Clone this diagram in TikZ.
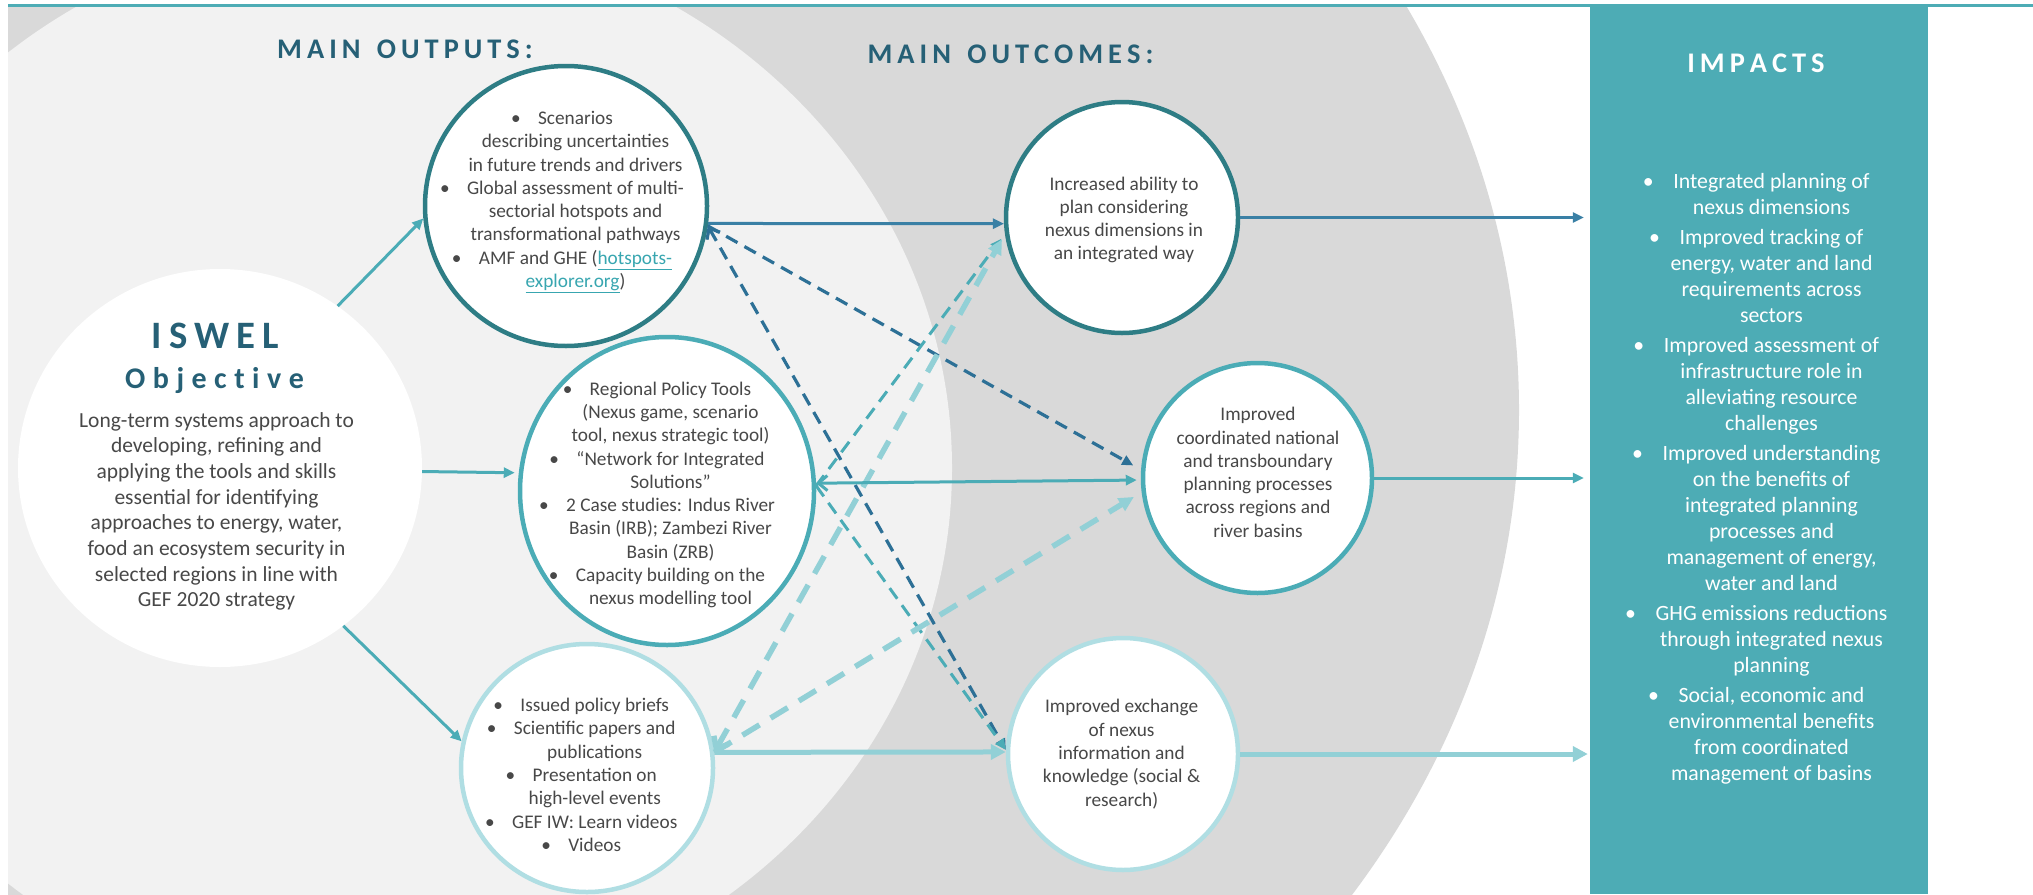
\documentclass[tikz,border=0pt]{standalone}
\usepackage{fontspec}
\setmainfont{Carlito}
\usetikzlibrary{shapes.geometric,arrows.meta}
\definecolor{bgdark}{HTML}{D9D9D9}
\definecolor{bglight}{HTML}{F2F2F2}
\definecolor{tealdark}{RGB}{46,125,133}
\definecolor{tealmid}{RGB}{75,172,182}
\definecolor{teallight}{RGB}{176,222,227}
\definecolor{arrowlight}{RGB}{146,208,214}
\definecolor{steel}{RGB}{58,128,165}
\definecolor{steeldash}{RGB}{45,112,150}
\definecolor{impactbg}{RGB}{77,172,181}
\definecolor{titlec}{RGB}{38,96,118}
\definecolor{bodyc}{RGB}{72,72,72}
\definecolor{linkc}{RGB}{56,166,176}
\newcommand\bul{\makebox[0pt][r]{\makebox[0pt][c]{\textbullet}\hspace{1.15em}}}
\newcommand\lnk[1]{{\color{linkc}\underline{#1}}}
\makeatletter
\def\spx#1#2{\def\spx@g{\kern#1}\spx@a#2\@nil}
\def\spx@a#1{\ifx#1\@nil\else#1\expandafter\spx@b\fi}
\def\spx@b#1{\ifx#1\@nil\else\spx@g#1\expandafter\spx@b\fi}
\makeatother
\tikzset{
  bubble/.style={ellipse, fill=white, line width=4.5pt, inner sep=0pt},
  body/.style={align=center, text=bodyc, inner sep=0pt, font=\fontsize{19.3}{23.3}\selectfont},
  head/.style={text=titlec, inner sep=0pt, anchor=base},
  tipA/.style={-{Triangle[length=11pt,width=10pt]}},
  solidmid/.style={draw=tealmid, line width=3pt, tipA},
  solidsteel/.style={draw=steel, line width=3pt, tipA},
  thicklight/.style={draw=arrowlight, line width=5pt, -{Triangle[length=15pt,width=15pt]}},
  dashdark/.style={draw=steeldash, line width=3.2pt, dash pattern=on 13pt off 8pt},
  dashmid/.style={draw=tealmid, line width=3pt, dash pattern=on 13pt off 8pt},
  dashlight/.style={draw=arrowlight, line width=5.5pt, dash pattern=on 20pt off 13pt},
}
\begin{document}
\begin{tikzpicture}[x=1pt,y=-1pt]
\useasboundingbox (0,0) rectangle (2033,894);
% background bands
\begin{scope}
\clip (8,7) rectangle (2033,894);
\fill[bgdark] (419,410) ellipse [x radius=1100pt, y radius=915pt];
\fill[bglight] (376,468) ellipse [x radius=576pt, y radius=540pt];
\end{scope}
\draw[impactbg, line width=3pt] (8,5.5) -- (2033,5.5);
% impacts box
\node[fill=impactbg, minimum width=338pt, minimum height=887pt, inner sep=0pt] (imp) at (1759,450.5) {};
% headings
\node[head, font=\bfseries\fontsize{28.4}{30}\selectfont] (hout) at (405,58) {\spx{5pt}{MAIN~OUTPUTS:}};
\node[head, font=\bfseries\fontsize{28.4}{30}\selectfont] (hoc) at (1010.5,63) {\spx{5pt}{MAIN~OUTCOMES:}};
\node[head, text=white, font=\bfseries\fontsize{28.4}{30}\selectfont] (himp) at (1756,72.5) {\spx{5pt}{IMPACTS}};
% ISWEL objective
\node[ellipse, fill=white, minimum width=404pt, minimum height=398pt, inner sep=0pt] (iswel) at (220,468) {};
\node[head, font=\bfseries\fontsize{38.8}{40}\selectfont] (iswelh) at (215.5,348) {\spx{7pt}{ISWEL}};
\node[head, font=\bfseries\fontsize{30}{32}\selectfont] (iswelo) at (214.5,388) {\spx{7.5pt}{Objective}};
\node[body, font=\fontsize{21.5}{25.7}\selectfont] (iswelt) at (216.5,511.9) {\strut Long-term systems approach to\\
developing, refining and\\
applying the tools and skills\\
essential for identifying\\
approaches to energy, water,\\
food an ecosystem security in\\
selected regions in line with\\
GEF 2020 strategy\strut};
% outputs
\node[bubble, draw=tealdark, minimum width=282pt, minimum height=280pt] (o1) at (566,206) {};
\node[body] (o1t) at (575.5,201.3) {\strut\bul Scenarios\\
describing uncertainties\\
in future trends and drivers\\
\bul Global assessment of multi-\\
sectorial hotspots and\\
transformational pathways\\
\bul AMF and GHE (\lnk{hotspots-}\\
\lnk{explorer.org})\strut};
\node[bubble, draw=tealmid, minimum width=294pt, minimum height=308pt] (o2) at (667,491) {};
\node[body] (o2t) at (670.5,495.3) {\strut\bul Regional Policy Tools\\
(Nexus game, scenario\\
tool, nexus strategic tool)\\
\bul “Network for Integrated\\
Solutions”\\
\bul 2 Case studies: Indus River\\
Basin (IRB); Zambezi River\\
Basin (ZRB)\\
\bul Capacity building on the\\
nexus modelling tool\strut};
\node[bubble, draw=teallight, minimum width=252pt, minimum height=248pt] (o3) at (587,768) {};
\node[body] (o3t) at (594.7,776.8) {\strut\bul Issued policy briefs\\
\bul Scientific papers and\\
publications\\
\bul Presentation on\\
high-level events\\
\bul GEF IW: Learn videos\\
\bul Videos\strut};
% outcomes
\node[bubble, draw=tealdark, minimum width=232pt, minimum height=231pt] (oc1) at (1122,217.5) {};
\node[body] (oc1t) at (1124,220.3) {\strut Increased ability to\\
plan considering\\
nexus dimensions in\\
an integrated way\strut};
\node[bubble, draw=tealmid, minimum width=229pt, minimum height=230pt] (oc2) at (1257.5,478) {};
\node[body] (oc2t) at (1258,474.3) {\strut Improved\\
coordinated national\\
and transboundary\\
planning processes\\
across regions and\\
river basins\strut};
\node[bubble, draw=teallight, minimum width=230pt, minimum height=232pt] (oc3) at (1123,754) {};
\node[body] (oc3t) at (1121.6,754.8) {\strut Improved exchange\\
of nexus\\
information and\\
knowledge (social \&\\
research)\strut};
% impacts text
\node[align=center, text=white, inner sep=0pt, font=\fontsize{21.8}{26}\selectfont] (impt) at (1771.5,478.8) {\strut\bul Integrated planning of\\
nexus dimensions\\[4pt]
\bul Improved tracking of\\
energy, water and land\\
requirements across\\
sectors\\[4pt]
\bul Improved assessment of\\
infrastructure role in\\
alleviating resource\\
challenges\\[4pt]
\bul Improved understanding\\
on the benefits of\\
integrated planning\\
processes and\\
management of energy,\\
water and land\\[4pt]
\bul GHG emissions reductions\\
through integrated nexus\\
planning\\[4pt]
\bul Social, economic and\\
environmental benefits\\
from coordinated\\
management of basins\strut};
% connectors: objective -> outputs
\draw[solidmid] (iswel.54) -- (o1.185);
\draw[solidmid, shorten >=4pt] (iswel.-1.7) -- (o2.173.4);
\draw[solidmid] (iswel.-52.2) -- (o3.168.2);
% dashed cross links
\draw[dashdark, -{Triangle[length=11pt,width=10pt]}, shorten >=9pt] (o1.-8.8) -- (oc2.176.3);
\draw[dashdark, {Straight Barb[length=9pt,width=15pt]}-{Triangle[length=11pt,width=10pt]}] (o1.-8.8) -- (oc3.178);
\draw[dashmid, -{Triangle[length=11pt,width=10pt]}, shorten >=6pt] (o2.2) -- (oc1.188.4);
\draw[dashmid, -{Triangle[length=11pt,width=10pt]}] (o2.2) -- (oc3.178);
\draw[dashlight, {Straight Barb[length=10pt,width=17pt]}-{Triangle[length=15pt,width=14pt]}, shorten >=6pt] (o3.7) -- (oc1.188.4);
\draw[dashlight, -{Triangle[length=15pt,width=14pt]}, shorten >=9pt] (o3.7) -- (oc2.187.8);
% outputs -> outcomes
\draw[solidsteel] (o1.-7.8) -- (oc1.183.7);
\draw[draw=tealmid, line width=3pt, {Straight Barb[length=9pt,width=15pt]}-{Triangle[length=11pt,width=10pt]}, shorten >=4pt] (o2.3.7) -- (oc2.181.75);
\draw[thicklight] (o3.7) -- (oc3.179);
% outcomes -> impacts
\draw[solidsteel, shorten >=6pt] (oc1.east) -- (oc1.east -| imp.west);
\draw[solidmid, shorten >=6pt] (oc2.east) -- (oc2.east -| imp.west);
\draw[thicklight, shorten >=2pt] (oc3.east) -- (oc3.east -| imp.west);
\end{tikzpicture}
\end{document}
